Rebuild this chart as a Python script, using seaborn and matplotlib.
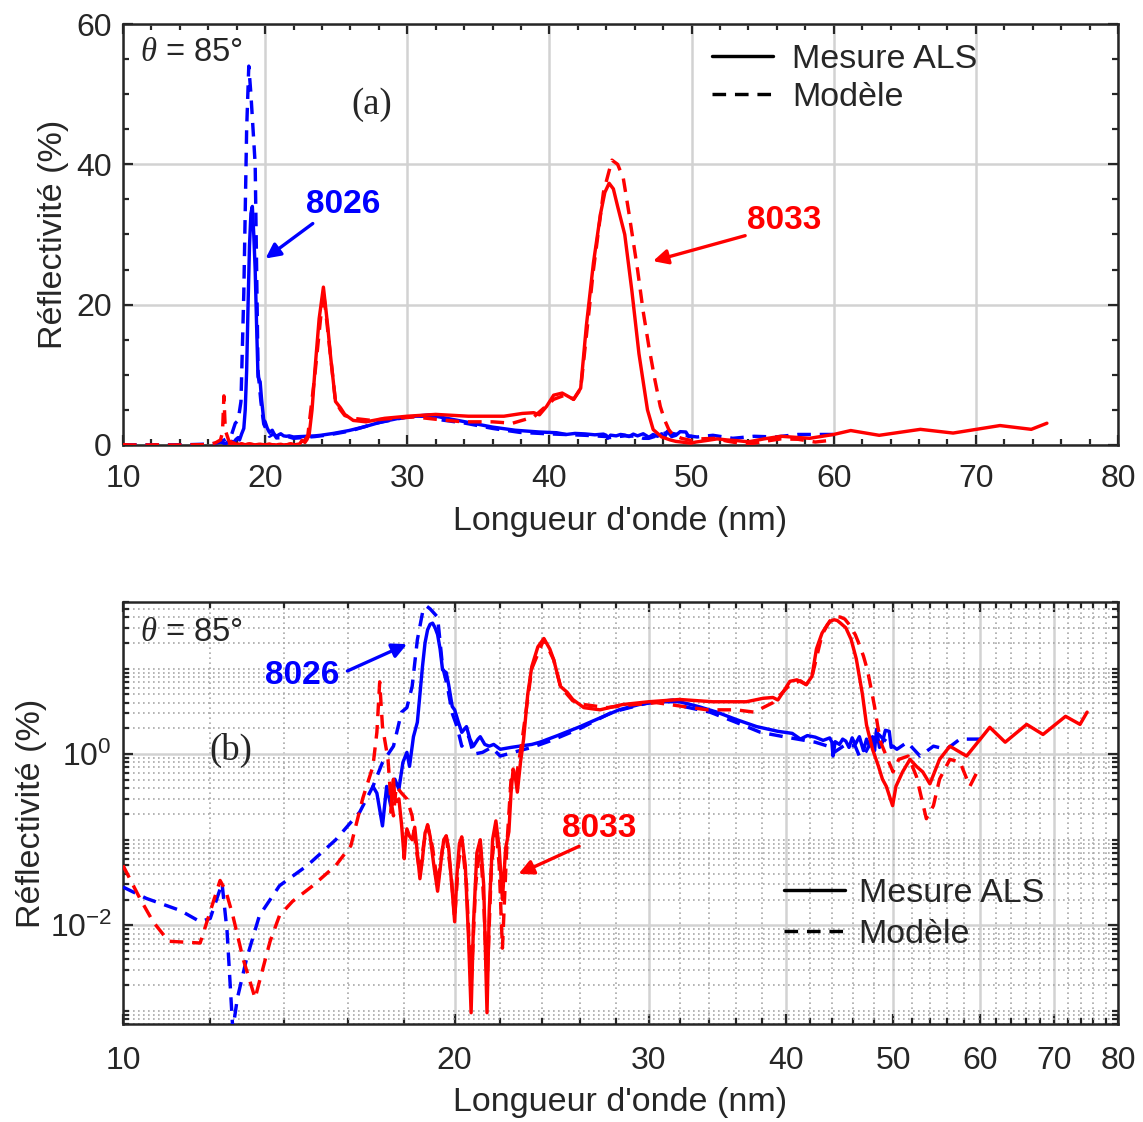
import numpy as np
import pandas as pd
import seaborn as sns
import matplotlib.pyplot as plt
from matplotlib.lines import Line2D
from matplotlib.ticker import (FixedLocator, NullFormatter, LogLocator,
                               LogFormatterSciNotation, FixedFormatter)

# -----------------------------
# Data (wavelength nm, reflectivity %)
# -----------------------------
wl_8026_meas = [16.86, 17.0, 17.2, 17.35, 17.5, 17.65, 17.8, 17.95, 18.1, 18.2, 18.35,
                18.5, 18.6, 18.7, 18.8, 18.9, 19.0, 19.1, 19.2, 19.3, 19.4, 19.5, 19.6,
                19.65, 19.75, 19.9, 20.0, 20.15, 20.3, 20.5, 20.65, 20.8, 21.0, 21.1,
                21.3, 21.5, 21.7, 22.0, 22.5, 22.9, 23.5, 23.9, 24.8, 25.9, 27.0, 28.2,
                29.4, 30.6, 32.0, 33.3, 34.6, 36.0, 37.6, 39.3, 40.5, 41.2, 41.8, 42.5,
                43.2, 43.8, 44.0, 44.1, 44.3, 44.7, 45.0, 45.3, 45.6, 45.9, 46.2, 46.6,
                47.0, 47.3, 47.6, 47.9, 48.1, 48.3, 48.6, 48.9, 49.2, 49.6, 49.8, 50.0]
r_8026_meas = [0.42, 0.35, 0.145, 0.42, 0.25, 0.51, 0.39, 0.8, 1.05, 0.72, 1.6,
               2.36, 5.0, 10.6, 20.0, 28.4, 33.0, 34.0, 30.0, 25.0, 17.0, 9.7, 9.2,
               9.0, 6.5, 3.6, 3.3, 2.4, 1.8, 2.1, 1.5, 1.24, 1.5, 1.6,
               1.3, 1.24, 1.3, 1.14, 1.2, 1.24, 1.3, 1.38, 1.65, 2.06, 2.6, 3.3,
               3.8, 4.1, 4.1, 3.6, 3.1, 2.55, 2.1, 1.85, 1.75, 1.5, 1.65, 1.58,
               1.45, 1.55, 1.38, 0.95, 1.4, 1.3, 1.5, 1.42, 1.2, 1.55, 1.3, 1.6,
               1.1, 1.5, 1.24, 1.6, 1.1, 1.95, 1.2, 1.38, 1.9, 1.85, 1.2, 1.24]

wl_8026_mod = [10.0, 10.5, 11.27, 11.75, 12.0, 12.3, 12.43, 12.58, 12.7, 12.95, 13.3,
               13.87, 14.7, 15.6, 16.4, 16.86, 17.2, 17.6, 17.9, 18.1, 18.3, 18.5,
               18.7, 18.85, 19.0, 19.3, 19.5, 19.7, 19.9, 20.1, 20.3, 20.6, 20.8,
               21.2, 21.6, 22.0, 22.6, 23.5, 24.5, 26.0, 27.8, 30.0, 31.6, 32.3,
               34.1, 36.0, 37.9, 40.0, 42.5, 44.0, 44.2, 45.3, 46.2, 46.6, 47.0,
               48.3, 49.0, 50.4, 51.5, 52.9, 54.4, 55.9, 57.5, 60.0]
r_8026_mod = [0.028, 0.0206, 0.0149, 0.011, 0.012, 0.031, 0.0085, 0.0006, 0.0014, 0.0041, 0.013,
              0.029, 0.05, 0.1, 0.21, 0.42, 0.8, 1.24, 3.1, 3.5, 6.2, 21.7,
              45.0, 54.0, 50.0, 40.0, 10.6, 6.2, 3.0, 2.1, 1.24, 1.6, 1.0,
              1.05, 1.2, 0.95, 1.05, 1.2, 1.45, 2.0, 3.1, 4.0, 4.3, 3.6,
              3.1, 2.36, 1.8, 1.58, 1.38, 1.2, 1.05, 1.3, 1.24, 0.95, 0.95,
              1.8, 1.5, 1.14, 1.38, 0.95, 1.24, 1.14, 1.5, 1.5]

wl_8033_meas = [17.5, 17.55, 17.6, 17.65, 17.72, 17.8, 17.9, 18.0, 18.05, 18.1, 18.2,
                18.3, 18.4, 18.5, 18.6, 18.7, 18.8, 18.9, 19.0, 19.15, 19.3, 19.45,
                19.55, 19.65, 19.75, 19.9, 20.0, 20.1, 20.2, 20.3, 20.45, 20.6, 20.7,
                20.8, 20.95, 21.1, 21.25, 21.4, 21.5, 21.65, 21.8, 21.95, 22.1, 22.25,
                22.4, 22.5, 22.6, 22.7, 22.8, 22.95, 23.1, 23.3, 23.5, 23.8, 24.1,
                24.4, 24.6, 24.95, 25.3, 25.6, 26.2, 27.1, 28.4, 30.0, 32.0, 34.3,
                36.8, 38.1, 38.9, 39.3, 39.8, 40.3, 40.9, 41.7, 42.2, 42.6, 43.1,
                43.6, 43.9, 44.2, 44.5, 44.8, 45.3, 45.8, 46.3, 46.9, 47.3, 47.9,
                48.5, 48.9, 49.3, 49.95, 50.3, 51.0, 51.8, 52.5, 53.2, 54.0, 55.1,
                56.3, 58.3, 60.0, 61.2, 63.2, 66.1, 68.4, 71.7, 73.9, 75.0]
r_8033_meas = [0.21, 0.4, 0.51, 0.3, 0.28, 0.3, 0.15, 0.06, 0.1, 0.134, 0.11,
               0.1, 0.14, 0.07, 0.035, 0.06, 0.12, 0.145, 0.11, 0.05, 0.025, 0.06,
               0.1, 0.111, 0.08, 0.025, 0.011, 0.04, 0.09, 0.108, 0.05, 0.006, 0.00095,
               0.01, 0.07, 0.1, 0.03, 0.00095, 0.015, 0.1, 0.166, 0.08, 0.02, 0.08,
               0.124, 0.35, 0.67, 0.55, 0.36, 0.8, 1.5, 5.0, 10.6, 18.0, 22.5,
               17.0, 12.7, 6.2, 5.3, 4.36, 3.5, 3.3, 3.8, 4.1, 4.36, 4.1,
               4.1, 4.5, 4.6, 4.3, 5.5, 7.1, 7.4, 6.5, 8.1, 17.0, 26.0,
               33.0, 36.0, 37.3, 36.5, 34.0, 30.0, 22.0, 13.0, 5.0, 2.2, 1.14,
               0.72, 0.51, 0.42, 0.25, 0.42, 0.62, 0.87, 0.72, 0.62, 0.45, 0.87,
               1.24, 0.95, 1.5, 2.06, 1.38, 2.23, 1.7, 2.77, 2.23, 3.1]

wl_8033_mod = [10.0, 10.36, 10.65, 11.0, 11.75, 12.0, 12.25, 12.4, 12.58, 12.85, 13.18,
               13.3, 13.6, 13.87, 14.25, 14.87, 15.6, 16.1, 16.5, 16.86, 17.0, 17.1,
               17.2, 17.4, 17.5, 17.6, 17.7, 17.9, 18.1, 18.3, 18.45, 18.6, 18.75,
               18.9, 19.1, 19.3, 19.5, 19.65, 19.85, 20.0, 20.15, 20.3, 20.5, 20.7,
               20.9, 21.1, 21.25, 21.4, 21.6, 21.8, 21.95, 22.1, 22.3, 22.5, 22.7,
               23.0, 23.5, 24.1, 24.6, 24.95, 25.3, 25.6, 26.2, 27.5, 28.4, 30.5,
               32.3, 33.9, 36.0, 37.4, 38.9, 40.3, 41.2, 41.7, 42.2, 43.1, 43.8,
               44.4, 44.8, 45.2, 45.6, 46.2, 46.6, 47.0, 47.4, 47.8, 48.1, 48.4,
               48.7, 49.3, 50.0, 50.6, 51.6, 52.5, 53.6, 54.4, 55.1, 56.3, 57.5,
               58.7, 59.6]
r_8033_mod = [0.05, 0.0206, 0.011, 0.0065, 0.0062, 0.0145, 0.0334, 0.025, 0.013, 0.0041, 0.0014,
              0.0022, 0.0065, 0.013, 0.019, 0.029, 0.05, 0.085, 0.3, 0.72, 1.8, 7.0,
              2.1, 0.87, 0.3, 0.19, 0.42, 0.35, 0.3, 0.19, 0.08, 0.04, 0.09,
              0.15, 0.08, 0.03, 0.08, 0.11, 0.04, 0.012, 0.05, 0.1, 0.03, 0.002,
              0.03, 0.09, 0.02, 0.002, 0.05, 0.15, 0.05, 0.0054, 0.08, 0.5, 0.45,
              1.3, 10.0, 22.0, 12.7, 6.2, 5.0, 4.2, 3.8, 3.5, 3.7, 4.0,
              3.6, 3.3, 3.3, 3.1, 4.0, 6.5, 7.2, 6.5, 8.0, 25.0, 36.0,
              40.6, 40.0, 38.0, 33.0, 25.0, 19.0, 14.0, 9.5, 5.5, 3.6, 2.2,
              1.4, 0.95, 0.62, 0.87, 0.95, 0.55, 0.176, 0.25, 0.51, 0.87, 0.81,
              0.42, 0.62]

BLUE = "#0000ff"
RED = "#ff0000"
DASH = (0, (4.0, 2.6))
LW = 2.45
curves = [
    (wl_8026_mod, r_8026_mod, BLUE, DASH),
    (wl_8026_meas, r_8026_meas, BLUE, "-"),
    (wl_8033_mod, r_8033_mod, RED, DASH),
    (wl_8033_meas, r_8033_meas, RED, "-"),
]

# -----------------------------
# Style
# -----------------------------
sns.set_style("ticks")
plt.rcParams["font.family"] = ["Liberation Sans", "DejaVu Sans"]
plt.rcParams["mathtext.fontset"] = "custom"
plt.rcParams["mathtext.rm"] = "Liberation Sans"
plt.rcParams["mathtext.it"] = "Liberation Serif:italic"
plt.rcParams["mathtext.default"] = "regular"

EDGE = "#262626"
fig = plt.figure(figsize=(11.43, 11.22), dpi=100)
ax1 = fig.add_axes([0.1076, 0.6034, 0.8705, 0.3752])
ax2 = fig.add_axes([0.1076, 0.0873, 0.8705, 0.3761])

for ax in (ax1, ax2):
    for wl, r, col, ls in curves:
        sns.lineplot(x=wl, y=r, ax=ax, color=col, linestyle=ls, linewidth=LW,
                     estimator=None, sort=False, zorder=3)
    for s in ax.spines.values():
        s.set_color(EDGE)
        s.set_linewidth(1.8)
    ax.set_xlabel("Longueur d'onde (nm)", fontsize=24.5, labelpad=8)
    ax.tick_params(which="both", direction="in", top=True, right=True,
                   color=EDGE, width=1.6, labelsize=23)
    ax.tick_params(which="major", length=7)
    ax.tick_params(which="minor", length=4)
    ax.set_axisbelow(True)

ax1.set_ylabel("Réflectivité (%)", fontsize=24.5, labelpad=5)
ax2.set_ylabel("Réflectivité (%)", fontsize=24.5, labelpad=2)

# -----------------------------
# (a) linear panel
# -----------------------------
ax1.set_xlim(10, 80)
ax1.set_ylim(0, 60)
ax1.set_xticks(np.arange(10, 81, 10))
ax1.set_yticks([0, 20, 40, 60])
ax1.xaxis.set_minor_locator(FixedLocator(np.arange(10, 81, 2)))
ax1.yaxis.set_minor_locator(FixedLocator(np.arange(0, 61, 5)))
ax1.tick_params(axis="x", which="major", pad=14)
ax1.tick_params(axis="y", which="major", pad=8)
ax1.grid(True, which="major", color="#d2d2d2", linewidth=1.8)

ax1.text(0.017, 0.933, r"$\mathit{\theta}$ = 85°", transform=ax1.transAxes,
         fontsize=23.5, va="center", ha="left")
ax1.text(0.25, 0.808, "(a)", transform=ax1.transAxes, fontsize=26.5,
         family="Liberation Serif", ha="center", va="center")
ax1.text(0.221, 0.572, "8026", transform=ax1.transAxes, fontsize=24,
         fontweight="bold", color=BLUE, ha="center", va="center")
ax1.annotate("", xy=(0.141, 0.439), xytext=(0.193, 0.530), xycoords="axes fraction",
             arrowprops=dict(arrowstyle="-|>", color=BLUE, lw=2.4, mutation_scale=22))
ax1.text(0.665, 0.534, "8033", transform=ax1.transAxes, fontsize=24,
         fontweight="bold", color=RED, ha="center", va="center")
ax1.annotate("", xy=(0.530, 0.435), xytext=(0.628, 0.499), xycoords="axes fraction",
             arrowprops=dict(arrowstyle="-|>", color=RED, lw=2.4, mutation_scale=22))

handles = [Line2D([], [], color="black", lw=LW, ls="-"),
           Line2D([], [], color="black", lw=LW, ls=DASH)]
ax1.legend(handles, ["Mesure ALS", "Modèle"], loc="upper left",
           bbox_to_anchor=(0.592, 0.952), frameon=False, fontsize=24.5,
           handlelength=1.8, handletextpad=0.55, labelspacing=0.2,
           borderpad=0, borderaxespad=0)

# -----------------------------
# (b) log-log panel
# -----------------------------
ax2.set_xscale("log")
ax2.set_yscale("log")
ax2.set_xlim(10, 80)
ax2.set_ylim(7e-4, 60)
ax2.xaxis.set_major_locator(FixedLocator(np.arange(10, 81, 10)))
ax2.xaxis.set_major_formatter(FixedFormatter([str(v) for v in range(10, 81, 10)]))
ax2.xaxis.set_minor_locator(FixedLocator([v for v in range(12, 80, 2) if v % 10]))
ax2.xaxis.set_minor_formatter(NullFormatter())
ax2.yaxis.set_major_locator(LogLocator(base=100, numticks=10))
ax2.yaxis.set_major_formatter(LogFormatterSciNotation())
ax2.yaxis.set_minor_locator(LogLocator(base=10, subs=np.arange(1, 10), numticks=20))
ax2.yaxis.set_minor_formatter(NullFormatter())
ax2.tick_params(axis="x", which="major", pad=16)
ax2.tick_params(axis="y", which="major", pad=8)
ax2.grid(True, which="major", color="#d2d2d2", linewidth=1.8, linestyle="-")
ax2.grid(True, which="minor", color="#a8a8a8", linewidth=1.2, linestyle=(0, (1, 2)))

ax2.text(0.017, 0.929, r"$\mathit{\theta}$ = 85°", transform=ax2.transAxes,
         fontsize=23.5, va="center", ha="left")
ax2.text(0.108, 0.649, "(b)", transform=ax2.transAxes, fontsize=26.5,
         family="Liberation Serif", ha="center", va="center")
ax2.text(0.180, 0.827, "8026", transform=ax2.transAxes, fontsize=24,
         fontweight="bold", color=BLUE, ha="center", va="center")
ax2.annotate("", xy=(0.288, 0.903), xytext=(0.223, 0.834), xycoords="axes fraction",
             arrowprops=dict(arrowstyle="-|>", color=BLUE, lw=2.4, mutation_scale=22))
ax2.text(0.479, 0.464, "8033", transform=ax2.transAxes, fontsize=24,
         fontweight="bold", color=RED, ha="center", va="center")
ax2.annotate("", xy=(0.395, 0.353), xytext=(0.461, 0.424), xycoords="axes fraction",
             arrowprops=dict(arrowstyle="-|>", color=RED, lw=2.4, mutation_scale=22))

ax2.legend(handles, ["Mesure ALS", "Modèle"], loc="upper left",
           bbox_to_anchor=(0.664, 0.347), frameon=False, fontsize=24.5,
           handlelength=1.8, handletextpad=0.4, labelspacing=0.3,
           borderpad=0, borderaxespad=0)

fig.savefig("out.png", dpi=100)
